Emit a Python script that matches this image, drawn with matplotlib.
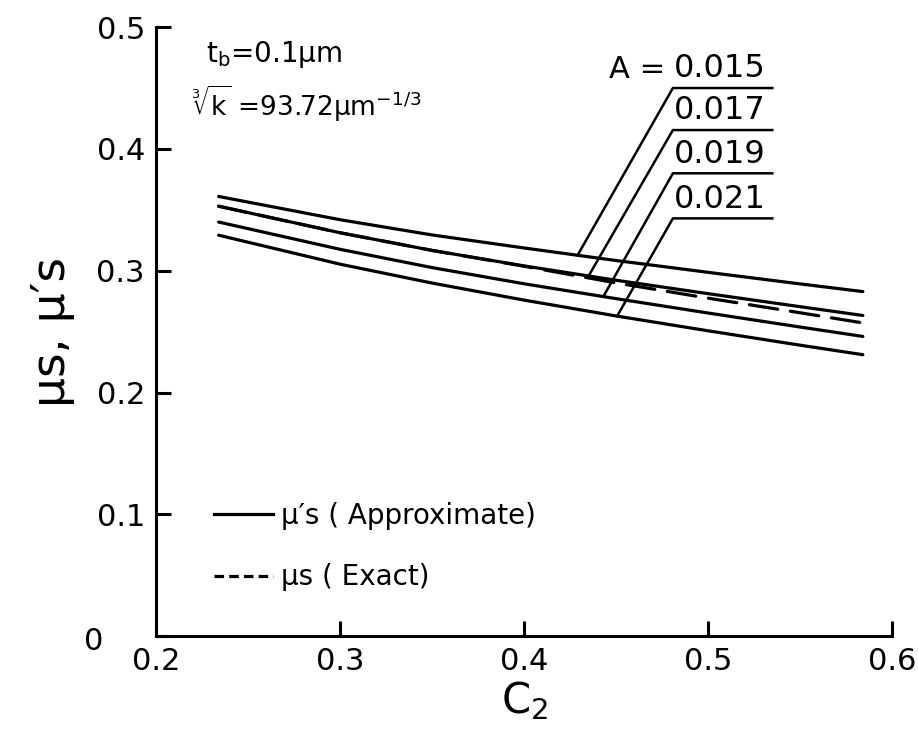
import matplotlib
matplotlib.use('Agg')
import matplotlib.pyplot as plt
import matplotlib.transforms as mtransforms
from matplotlib.lines import Line2D
import numpy as np

c2 = [0.234, 0.30, 0.35, 0.40, 0.45, 0.50, 0.55, 0.584]

# mu's (approximate), one curve per A
mu_a015 = [0.3610, 0.3419, 0.3294, 0.3187, 0.3084, 0.2987, 0.2892, 0.2829]
mu_a017 = [0.3530, 0.3312, 0.3167, 0.3040, 0.2922, 0.2812, 0.2705, 0.2633]
mu_a019 = [0.3400, 0.3176, 0.3026, 0.2893, 0.2771, 0.2653, 0.2538, 0.2461]
mu_a021 = [0.3292, 0.3054, 0.2899, 0.2759, 0.2629, 0.2507, 0.2389, 0.2311]

# mu_s (exact)
mu_exact = [0.3530, 0.3312, 0.3167, 0.3037, 0.2900, 0.2775, 0.2655, 0.2572]

a_labels = ['0.015', '0.017', '0.019', '0.021']
leader_c2 = [0.429, 0.435, 0.443, 0.4505]

plt.rcParams['font.family'] = 'DejaVu Sans'
plt.rcParams['mathtext.fontset'] = 'dejavusans'

fig = plt.figure(figsize=(9.18, 7.33), dpi=100)
ax = fig.add_axes([0.170, 0.132, 0.802, 0.831])

lw = 2.3
approx = [mu_a015, mu_a017, mu_a019, mu_a021]
for ys in approx:
    ax.plot(c2, ys, color='black', lw=lw, solid_capstyle='round')
ax.plot(c2, mu_exact, color='black', lw=lw, dashes=(9, 4), dash_capstyle='round')

ax.set_xlim(0.2, 0.6)
ax.set_ylim(0, 0.5)
ax.set_xticks([0.2, 0.3, 0.4, 0.5, 0.6])
ax.set_xticklabels(['0.2', '0.3', '0.4', '0.5', '0.6'])
ax.set_yticks([0, 0.1, 0.2, 0.3, 0.4, 0.5])
ax.set_yticklabels(['0', '0.1', '0.2', '0.3', '0.4', '0.5'])
ax.tick_params(direction='in', length=11, width=2.2, labelsize=22, pad=8)
for s in ['top', 'right']:
    ax.spines[s].set_visible(False)
for s in ['left', 'bottom']:
    ax.spines[s].set_linewidth(2.2)

# the "0" sits out at the corner, left of the other y labels
zero = ax.get_yticklabels()[0]
zero.set_transform(zero.get_transform()
                   + mtransforms.ScaledTranslation(-0.42, -0.02, fig.dpi_scale_trans))

ax.set_xlabel('C$_2$', fontsize=30, labelpad=2)
ax.set_ylabel("μs, μ′s", fontsize=34, labelpad=6)

# parameter notes
ax.text(0.068, 0.955, r'$\mathregular{t_b}$=0.1μm', transform=ax.transAxes,
        fontsize=20, va='center', ha='left')
ax.text(0.048, 0.875, r'$\sqrt[3]{\mathregular{k}}$ =93.72μm$^{\mathregular{-1/3}}$',
        transform=ax.transAxes, fontsize=19, va='center', ha='left')

# leader lines to A labels
label_y = [0.900, 0.831, 0.760, 0.686]
ux0, ux1 = 0.702, 0.837
to_axes = ax.transAxes.inverted()
for ys, lab, lc, ly in zip(approx, a_labels, leader_c2, label_y):
    py = np.interp(lc, c2, ys)
    px_ax, py_ax = to_axes.transform(ax.transData.transform((lc, py)))
    ax.plot([px_ax, ux0, ux1], [py_ax, ly, ly], color='black', lw=1.8,
            transform=ax.transAxes, clip_on=False)
    ax.text(ux0 + 0.002, ly + 0.006, lab, transform=ax.transAxes,
            fontsize=23, ha='left', va='bottom')
ax.text(ux0 - 0.01, label_y[0] + 0.006, 'A =', transform=ax.transAxes,
        fontsize=22, ha='right', va='bottom')

handles = [Line2D([], [], color='black', lw=lw),
           Line2D([], [], color='black', lw=lw, dashes=(3, 1.6))]
ax.legend(handles, ["μ′s ( Approximate)", "μs ( Exact)"], loc='center left',
          bbox_to_anchor=(0.045, 0.147), frameon=False, fontsize=20,
          handlelength=2.1, handletextpad=0.3, labelspacing=1.2)

fig.savefig('out.png', dpi=100)
